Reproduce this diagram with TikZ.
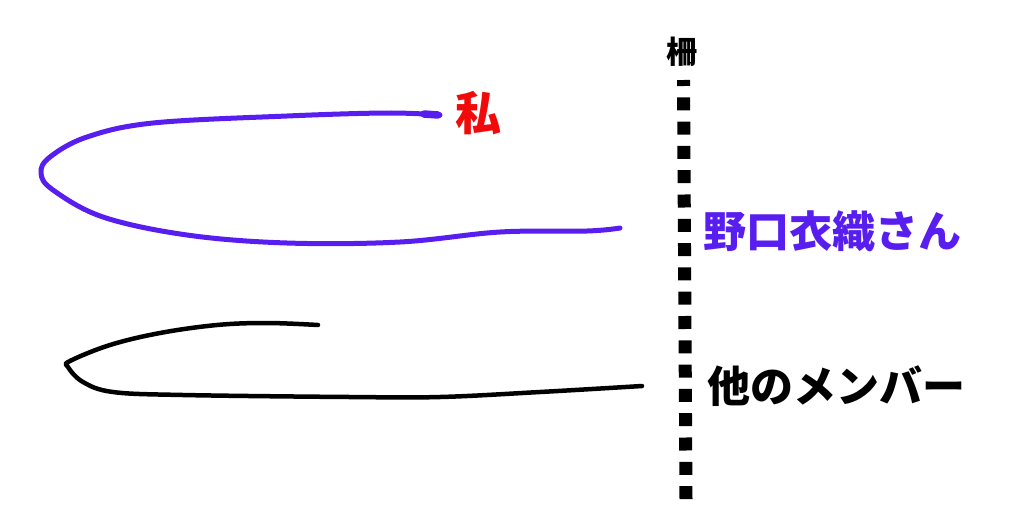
\documentclass[tikz,border=0pt]{standalone}
\usepackage{fontspec}
\newfontfamily\jp{Noto Sans CJK JP Black}
\definecolor{noguchi}{RGB}{88,30,240}
\definecolor{watashi}{RGB}{240,10,10}
\tikzset{
  label/.style={inner sep=0pt, font=\jp\fontsize{43}{43}\selectfont},
  fence/.style={line width=13pt, dash pattern=on 13pt off 11.3pt, dash phase=7pt},
  stroke/.style={line width=4.5pt, line cap=round, line join=round}
}
\begin{document}
\begin{tikzpicture}[x=1pt, y=-1pt]
\useasboundingbox (0,0) rectangle (1024,520);
%% fence
	\node[label, font=\jp\fontsize{31}{31}\selectfont] (fencelabel) at (682, 52) {柵};
	\coordinate (fencetop) at (683.5, 80);
	\coordinate (fencebot) at (686, 500);
  \draw[fence] (fencetop) -- (fencebot);
%% me and Noguchi Iori
	\node[label, text=watashi, font=\jp\fontsize{46}{46}\selectfont] (me) at (478, 113) {私};
	\node[label, text=noguchi] (noguchi) at (832, 231) {野口衣織さん};
  \draw[stroke, noguchi, line width=5pt] plot[smooth, tension=0.6] coordinates {
    (440,115) (387,113) (287,116) (153,123) (87,137) (50,157) (41,173) (53,190)
    (103,217) (187,235) (287,243) (400,242) (500,232) (587,231) (620,228)};
  \draw[stroke, noguchi, line width=7.5pt] (424,114) -- (438,115);
%% other members
	\node[label] (others) at (836, 386) {他のメンバー};
  \draw[stroke, black] plot[smooth, tension=0.6] coordinates {
    (318,325) (267,323) (217,325) (160,333) (110,345) (70,361) (68,367) (83,382)
    (113,392) (183,395) (350,397) (440,397) (540,392) (642,386)};
\end{tikzpicture}
\end{document}
